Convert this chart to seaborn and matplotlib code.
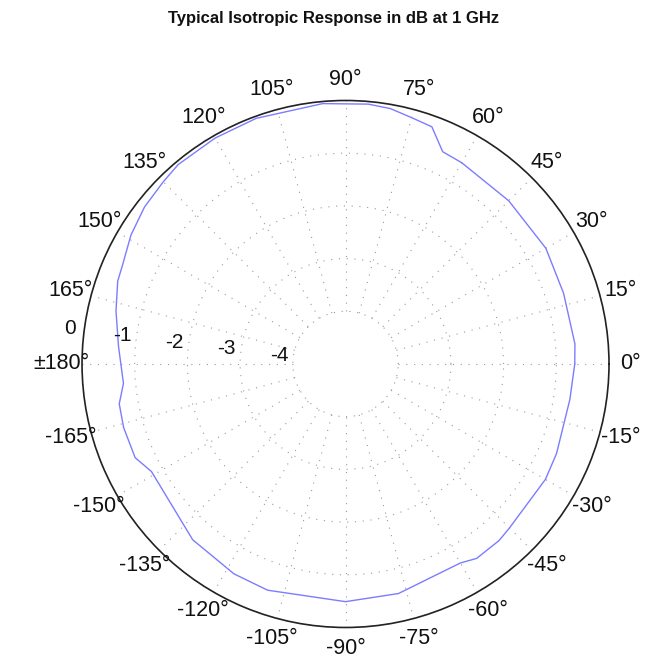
"""Polar plot of the typical isotropic response at 1 GHz (dB)."""

import matplotlib
matplotlib.use("Agg")
import matplotlib.pyplot as plt
import numpy as np
import seaborn as sns

TITLE = "Typical Isotropic Response in dB at 1 GHz"

# measured vertices: angle in degrees, level in dB
angle_deg = [0, 5, 18, 30, 45, 60, 65.4, 70, 75, 80, 85, 95, 110, 120, 130,
             135, 142, 149, 156, 160, 167, 175.6, 185, 190, 196, 204, 209,
             229, 242, 251, 270, 283, 300, 304, 311, 315, 330, 337, 351, 360]
level_db = [-0.65, -0.63, -0.65, -0.61, -0.62, -0.59, -0.57, -0.21, -0.16,
            -0.08, -0.05, -0.04, -0.04, -0.05, -0.06, -0.11, -0.16, -0.25,
            -0.37, -0.40, -0.53, -0.68, -0.77, -0.64, -0.62, -0.63, -0.79,
            -0.58, -0.49, -0.46, -0.49, -0.53, -0.64, -0.55, -0.56, -0.60,
            -0.62, -0.65, -0.69, -0.65]

r_ticks = [-4, -3, -2, -1, 0]
r_labels = ["-4", "-3", "-2", "-1", "0"]
theta_ticks = list(range(0, 360, 15))
theta_labels = ["0°", "15°", "30°", "45°", "60°", "75°", "90°", "105°", "120°",
                "135°", "150°", "165°", "±180°", "-165°", "-150°", "-135°",
                "-120°", "-105°", "-90°", "-75°", "-60°", "-45°", "-30°", "-15°"]

GRID_KW = dict(color="#9a9a9a", linestyle=(0, (1, 6)), linewidth=0.8)

sns.set_theme(style="white")
plt.rcParams["font.family"] = ["Liberation Sans", "DejaVu Sans"]

fig = plt.figure(figsize=(6.51, 6.63), dpi=100)
ax = fig.add_axes([0.126, 0.0535, 0.8095, 0.795], projection="polar")
ax.set_theta_zero_location("E")
ax.set_theta_direction(1)

ax.set_rlim(-5, 0)
ax.set_yticks(r_ticks)
ax.set_yticklabels([])
ax.set_xticks(np.deg2rad(theta_ticks))
ax.set_xticklabels([])
ax.xaxis.grid(False)
ax.yaxis.grid(True, **GRID_KW)

# spokes start at the innermost ring, the centre stays clear
for t in theta_ticks:
    ax.plot([np.deg2rad(t)] * 2, [r_ticks[0], r_ticks[-1]], zorder=1, **GRID_KW)

theta = np.deg2rad(angle_deg)
sns.lineplot(x=theta, y=level_db, sort=False, estimator=None, ax=ax,
             color="#7c7cff", linewidth=1.0, zorder=3)

ax.tick_params(axis="x", direction="in", length=5, width=0.9, colors="#333333")
ax.spines["polar"].set_color("#222222")
ax.spines["polar"].set_linewidth(1.2)

for t, lab in zip(theta_ticks, theta_labels):
    ax.text(np.deg2rad(t), 0.40, lab, ha="center", va="center",
            fontsize=15.5, color="#111111", clip_on=False)

for rv, lab in zip(r_ticks, r_labels):
    ax.text(np.deg2rad(172.7), rv + 0.27, lab, ha="center", va="center",
            fontsize=15, color="#111111", clip_on=False)

fig.text(0.513, 0.972, TITLE, ha="center", va="center", fontsize=12,
         fontweight="bold", color="#111111")

fig.savefig("out.png", dpi=100)
